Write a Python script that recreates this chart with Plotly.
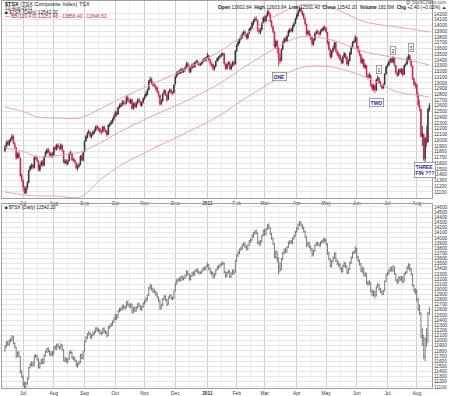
import plotly.graph_objects as go
import pandas as pd

# ---- daily OHLC of $TSX, 14-Jun-2010 .. 12-Aug-2011 ----
opens = [
    11820, 11890, 11970, 11920, 11990, 12020, 12070, 11940, 11870, 11700, 11770, 11690, 11390,
    11300, 11170, 11080, 11170, 11260, 11480, 11530, 11570, 11520, 11710, 11700, 11630, 11480, 11570, 11630, 11560, 11720, 11780, 11840, 11790, 11730, 11770,
    11740, 11880, 11840, 11920, 11870, 11850, 11910, 11820, 11610, 11650, 11590, 11640, 11770, 11770, 11670, 11660, 11610, 11510, 11550, 11580, 11730, 11650,
    11800, 11990, 12050, 12130, 12140, 12060, 12110, 12130, 12170, 12240, 12200, 12200, 12140, 12150, 12240, 12170, 12160, 12100, 12250, 12290, 12310, 12370,
    12430, 12490, 12450, 12580, 12590, 12620, 12670, 12640, 12650, 12750, 12690, 12660, 12710, 12550, 12640, 12580, 12650, 12710, 12670, 12610, 12660,
    12730, 12770, 12800, 12880, 13030, 13070, 12990, 12970, 12940, 12910, 12840, 12780, 12630, 12690, 12820, 12870, 12790, 12710, 12850, 12880, 12820, 12830,
    12980, 13110, 13160, 13200, 13170, 13240, 13190, 13230, 13270, 13340, 13290, 13190, 13260, 13320, 13280, 13360, 13380, 13330, 13310, 13330, 13370, 13420, 13390,
    13450, 13480, 13390, 13330, 13320, 13240, 13290, 13380, 13410, 13450, 13480, 13490, 13510, 13330, 13250, 13330, 13360, 13240, 13310, 13360, 13330,
    13560, 13660, 13700, 13770, 13790, 13860, 13890, 13820, 13780, 13870, 13930, 13960, 14030, 14090, 14120, 14090, 13910, 13880, 13930, 14050,
    14140, 14070, 14170, 14240, 14190, 14070, 13980, 13890, 13630, 13730, 13610, 13440, 13390, 13590, 13710, 13770, 13730, 13820, 13890, 13930, 13900, 13990, 14040,
    14120, 14170, 14250, 14300, 14240, 14200, 14120, 14020, 13860, 13900, 13820, 13790, 13670, 13750, 13860, 13900, 13870, 13860, 13910, 13920, 13970,
    13950, 13880, 13710, 13580, 13450, 13550, 13610, 13700, 13550, 13510, 13480, 13400, 13350, 13460, 13500, 13450, 13320, 13390, 13510, 13620, 13710, 13730,
    13790, 13630, 13550, 13490, 13350, 13410, 13270, 13300, 13120, 13110, 13130, 12970, 12890, 12950, 12870, 13060, 13080, 13010, 12950, 12910, 12970, 13160,
    13290, 13310, 13370, 13420, 13360, 13430, 13300, 13170, 13140, 13230, 13180, 13240, 13150, 13310, 13330, 13410, 13480, 13390, 13290, 13070, 12990,
    12960, 12800, 12610, 12540, 12060, 12100, 11680, 12040, 11970, 12604,
]
highs = [
    11920, 11990, 12000, 12020, 12050, 12110, 12090, 11970, 11880, 11790, 11800, 11700, 11430,
    11320, 11200, 11200, 11290, 11490, 11570, 11600, 11590, 11720, 11740, 11720, 11650, 11590, 11650, 11660, 11730, 11810, 11860, 11870, 11820, 11790, 11800,
    11890, 11910, 11940, 11950, 11900, 11950, 11930, 11830, 11680, 11670, 11660, 11790, 11820, 11790, 11700, 11680, 11630, 11580, 11610, 11740, 11750, 11800,
    12000, 12090, 12150, 12190, 12160, 12130, 12170, 12200, 12260, 12270, 12240, 12220, 12180, 12250, 12260, 12200, 12180, 12280, 12310, 12350, 12390, 12450,
    12520, 12510, 12590, 12640, 12650, 12700, 12700, 12680, 12770, 12780, 12720, 12730, 12720, 12660, 12670, 12670, 12730, 12740, 12690, 12680, 12750,
    12800, 12850, 12900, 13050, 13110, 13090, 13030, 13000, 12970, 12940, 12860, 12800, 12720, 12830, 12890, 12880, 12810, 12860, 12900, 12900, 12860, 12980,
    13130, 13200, 13220, 13230, 13260, 13270, 13250, 13290, 13370, 13360, 13310, 13280, 13340, 13350, 13370, 13400, 13400, 13360, 13350, 13390, 13430, 13440, 13460,
    13520, 13490, 13420, 13360, 13340, 13310, 13390, 13450, 13470, 13500, 13520, 13540, 13520, 13350, 13340, 13380, 13370, 13330, 13380, 13390, 13570,
    13680, 13740, 13790, 13830, 13880, 13920, 13910, 13850, 13880, 13960, 13990, 14070, 14110, 14150, 14160, 14100, 13950, 13960, 14060, 14160,
    14170, 14190, 14270, 14280, 14210, 14100, 14000, 13900, 13760, 13740, 13620, 13520, 13600, 13730, 13790, 13800, 13840, 13930, 13960, 13960, 14010, 14060, 14140,
    14210, 14280, 14330, 14320, 14270, 14220, 14140, 14030, 13930, 13920, 13850, 13800, 13770, 13880, 13920, 13930, 13900, 13930, 13960, 13990, 14000,
    13980, 13890, 13730, 13600, 13570, 13640, 13720, 13710, 13580, 13540, 13500, 13430, 13480, 13540, 13520, 13460, 13410, 13540, 13640, 13730, 13760, 13830,
    13800, 13650, 13580, 13510, 13440, 13420, 13340, 13310, 13160, 13180, 13140, 12990, 12980, 12970, 13070, 13130, 13100, 13030, 12980, 12990, 13170, 13300,
    13340, 13390, 13440, 13440, 13470, 13440, 13310, 13200, 13250, 13260, 13260, 13250, 13320, 13350, 13450, 13510, 13490, 13410, 13300, 13090, 13020,
    13000, 12830, 12700, 12550, 12250, 12110, 12060, 12250, 12560, 12650,
]
lows = [
    11790, 11860, 11900, 11900, 11960, 11990, 11930, 11850, 11660, 11680, 11680, 11360, 11270,
    11110, 11060, 11070, 11140, 11250, 11460, 11500, 11490, 11510, 11660, 11610, 11460, 11450, 11540, 11540, 11550, 11700, 11760, 11770, 11700, 11700, 11690,
    11730, 11820, 11820, 11860, 11820, 11840, 11800, 11600, 11580, 11570, 11560, 11630, 11740, 11640, 11620, 11590, 11490, 11470, 11520, 11560, 11640, 11630,
    11790, 11970, 12030, 12100, 12040, 12030, 12080, 12110, 12150, 12180, 12160, 12120, 12100, 12130, 12150, 12120, 12060, 12090, 12230, 12260, 12290, 12340,
    12400, 12400, 12440, 12550, 12570, 12590, 12620, 12600, 12630, 12670, 12640, 12630, 12530, 12530, 12560, 12560, 12620, 12650, 12590, 12580, 12640,
    12700, 12740, 12780, 12870, 13000, 12970, 12930, 12920, 12870, 12820, 12750, 12600, 12610, 12670, 12790, 12770, 12670, 12700, 12820, 12800, 12780, 12810,
    12970, 13090, 13130, 13150, 13150, 13170, 13170, 13200, 13250, 13270, 13170, 13170, 13240, 13260, 13260, 13330, 13310, 13290, 13290, 13310, 13350, 13370, 13370,
    13430, 13370, 13300, 13270, 13210, 13210, 13270, 13360, 13390, 13420, 13450, 13470, 13310, 13220, 13230, 13300, 13220, 13220, 13280, 13280, 13320,
    13540, 13630, 13680, 13740, 13770, 13830, 13800, 13750, 13760, 13850, 13900, 13940, 14000, 14060, 14070, 13880, 13850, 13840, 13910, 14030,
    14040, 14050, 14150, 14170, 14050, 13960, 13860, 13610, 13590, 13520, 13290, 13330, 13370, 13570, 13680, 13700, 13710, 13800, 13870, 13880, 13880, 13960, 14020,
    14100, 14150, 14230, 14220, 14160, 14100, 14000, 13820, 13830, 13800, 13740, 13630, 13650, 13730, 13840, 13850, 13820, 13830, 13880, 13900, 13910,
    13860, 13670, 13560, 13420, 13430, 13520, 13590, 13530, 13470, 13430, 13380, 13320, 13330, 13430, 13410, 13300, 13290, 13370, 13490, 13600, 13680, 13700,
    13590, 13530, 13460, 13330, 13320, 13250, 13240, 13100, 13060, 13080, 12930, 12860, 12860, 12820, 12860, 13030, 12970, 12930, 12880, 12890, 12960, 13140,
    13260, 13290, 13340, 13340, 13340, 13280, 13150, 13100, 13120, 13160, 13150, 13110, 13140, 13280, 13310, 13390, 13350, 13270, 13050, 12940, 12900,
    12760, 12580, 12500, 12050, 11900, 11640, 11600, 11880, 11960, 12500,
]
closes = [
    11880, 11960, 11930, 11990, 12010, 12060, 11950, 11880, 11690, 11760, 11700, 11380, 11310,
    11180, 11090, 11160, 11250, 11470, 11540, 11560, 11530, 11700, 11690, 11640, 11490, 11560, 11620, 11570, 11710, 11790, 11830, 11800, 11740, 11760, 11720,
    11870, 11850, 11910, 11880, 11860, 11920, 11830, 11620, 11640, 11600, 11630, 11760, 11780, 11660, 11650, 11620, 11520, 11540, 11570, 11720, 11660, 11780,
    11980, 12060, 12120, 12150, 12070, 12100, 12140, 12160, 12230, 12210, 12190, 12150, 12140, 12230, 12180, 12150, 12090, 12260, 12280, 12320, 12360, 12420,
    12480, 12440, 12570, 12600, 12610, 12660, 12650, 12640, 12740, 12700, 12670, 12700, 12560, 12630, 12590, 12640, 12700, 12680, 12620, 12650, 12720,
    12760, 12810, 12870, 13020, 13060, 13000, 12960, 12950, 12900, 12850, 12790, 12640, 12680, 12810, 12860, 12800, 12700, 12840, 12870, 12830, 12820, 12960,
    13100, 13170, 13190, 13180, 13230, 13200, 13220, 13260, 13330, 13300, 13200, 13250, 13310, 13290, 13350, 13370, 13340, 13320, 13320, 13360, 13410, 13400, 13440,
    13470, 13400, 13340, 13310, 13250, 13280, 13370, 13420, 13440, 13470, 13490, 13500, 13340, 13260, 13320, 13350, 13250, 13300, 13350, 13320, 13550,
    13650, 13710, 13760, 13800, 13850, 13880, 13830, 13790, 13860, 13940, 13950, 14040, 14080, 14110, 14100, 13920, 13890, 13920, 14040, 14130,
    14080, 14160, 14230, 14200, 14080, 13990, 13900, 13640, 13720, 13620, 13450, 13380, 13580, 13700, 13760, 13740, 13810, 13900, 13920, 13910, 13980, 14030, 14110,
    14180, 14240, 14290, 14250, 14190, 14130, 14030, 13850, 13890, 13830, 13780, 13680, 13740, 13850, 13890, 13880, 13850, 13900, 13930, 13960, 13940,
    13890, 13700, 13590, 13460, 13540, 13600, 13690, 13560, 13500, 13470, 13410, 13360, 13450, 13510, 13440, 13330, 13380, 13520, 13610, 13700, 13720, 13800,
    13620, 13560, 13500, 13360, 13400, 13280, 13310, 13130, 13100, 13140, 12960, 12900, 12940, 12880, 13050, 13090, 13000, 12960, 12920, 12960, 13150, 13280,
    13300, 13360, 13410, 13370, 13440, 13310, 13180, 13130, 13220, 13190, 13230, 13140, 13300, 13320, 13420, 13470, 13380, 13300, 13080, 12980, 12950,
    12810, 12620, 12560, 12070, 12120, 11670, 12030, 11950, 12540, 12542,
]

# ---- envelope lines (upper / middle / lower), sampled at trading-day index ----
band_idx = [0, 14, 23, 35, 54, 68, 82, 104, 128, 152, 176, 211, 234, 258, 281, 295, 304]
band_upper = [12580, 12493, 12406, 12388, 12388, 12545, 12719, 12963, 13224, 13521, 13904, 14357, 14305, 14061, 13974, 13921, 13886]
band_mid = [11866, 11796, 11709, 11726, 11796, 11953, 12144, 12406, 12667, 12963, 13346, 13799, 13747, 13538, 13434, 13364, 13312]
band_lower = [11099, 11047, 11030, 11030, 11012, 11308, 11552, 11831, 12110, 12406, 12789, 13259, 13277, 13103, 12841, 12789, 12754]

top_ticks = list(range(11100, 14201, 100))
bottom_ticks = list(range(11100, 14601, 100))

n = len(closes)
dates = pd.bdate_range("2010-06-14", periods=n)
x = list(range(n))

month_idx, month_txt, mid_idx = [], [], []
for i in range(1, n):
    if dates[i].month != dates[i - 1].month:
        month_idx.append(i)
        month_txt.append("<b>%d</b>" % dates[i].year if dates[i].month == 1 else dates[i].strftime("%b"))
    if dates[i].day >= 15 and dates[i - 1].day < 15:
        mid_idx.append(i)

up = [i for i in range(n) if i == 0 or closes[i] >= closes[i - 1]]
dn = [i for i in range(n) if i > 0 and closes[i] < closes[i - 1]]


def pick(lst, idx):
    return [lst[i] for i in idx]


fig = go.Figure()

UP_COL = "#2b2b2b"
DN_COL = "#d0164a"
for idx, col in ((up, UP_COL), (dn, DN_COL)):
    fig.add_trace(go.Candlestick(
        x=idx, open=pick(opens, idx), high=pick(highs, idx), low=pick(lows, idx), close=pick(closes, idx),
        increasing=dict(line=dict(color=col, width=0.8), fillcolor=col),
        decreasing=dict(line=dict(color=col, width=0.8), fillcolor=col),
        whiskerwidth=0, xaxis="x", yaxis="y", showlegend=False, hoverinfo="skip",
    ))

BAND_COL = "#e6a7ad"
for vals in (band_upper, band_mid, band_lower):
    fig.add_trace(go.Scatter(
        x=band_idx, y=vals, mode="lines", line=dict(color=BAND_COL, width=1, shape="spline", smoothing=0.8),
        xaxis="x", yaxis="y", showlegend=False, hoverinfo="skip",
    ))

fig.add_trace(go.Ohlc(
    x=x, open=opens, high=highs, low=lows, close=closes,
    increasing=dict(line=dict(color="#5a5a5a", width=0.8)),
    decreasing=dict(line=dict(color="#5a5a5a", width=0.8)),
    tickwidth=0.35, xaxis="x2", yaxis="y2", showlegend=False, hoverinfo="skip",
))

W, H = 450, 396
x_dom = [2 / W, 432 / W]
x_rng = [-2.15, 305.9]
top_dom = [1 - 198 / H, 1 - 1 / H]
bot_dom = [1 - 388 / H, 1 - 204 / H]

xcommon = dict(
    range=x_rng, domain=x_dom, tickmode="array", tickvals=month_idx, ticktext=month_txt,
    showgrid=True, gridcolor="#cdcdcd", gridwidth=1, ticks="", tickfont=dict(size=4.8, color="#333"),
    showline=True, linecolor="#a0a0a0", linewidth=1, mirror=True, zeroline=False,
    rangeslider=dict(visible=False), automargin=False, ticklabelstandoff=0,
    minor=dict(tickvals=mid_idx, showgrid=True, gridcolor="#ececec", gridwidth=1),
)
ycommon = dict(
    side="right", tickmode="array", showgrid=True, gridcolor="#e6e6e6", gridwidth=1,
    ticks="", tickfont=dict(size=4.8, color="#333"), showline=True, linecolor="#a0a0a0",
    linewidth=1, mirror=True, zeroline=False, automargin=False, ticklabelstandoff=0,
    ticklabeloverflow="allow",
)

fig.update_layout(
    width=W, height=H, margin=dict(l=0, r=0, t=0, b=0),
    paper_bgcolor="white", plot_bgcolor="white", showlegend=False,
    font=dict(family="Liberation Sans, Arial, sans-serif", size=5, color="#222"),
    xaxis=dict(anchor="y", **xcommon),
    yaxis=dict(anchor="x", domain=top_dom, range=[10994, 14426], tickvals=top_ticks,
               ticktext=[str(v) for v in top_ticks], **ycommon),
    xaxis2=dict(anchor="y2", **xcommon),
    yaxis2=dict(anchor="x2", domain=bot_dom, range=[11079, 14658], tickvals=bottom_ticks,
                ticktext=[str(v) for v in bottom_ticks], **ycommon),
)


def px_ann(text, px, py, size=5, color="#222", xanchor="left", **kw):
    fig.add_annotation(text=text, xref="paper", yref="paper", x=px / W, y=1 - py / H,
                       xanchor=xanchor, yanchor="middle", showarrow=False,
                       font=dict(size=size, color=color), **kw)


px_ann("<b>$TSX</b> (TSX Composite Index) TSX", 3, 4, size=5.5)
px_ann("12-Aug-2011", 3, 8.5, size=4.8)
px_ann("<b>■</b> $TSX (Daily) 12542.20", 3, 12.5, size=4.8)
px_ann("— BB(120,4.0) 13251.46 - 13856.40 - 12646.52", 3, 16.5, size=4.8, color="#c02040")
px_ann("@ StockCharts.com", 448, 2.5, xanchor="right", size=4.5, color="#555")
px_ann("<b>Open</b> 12602.84  <b>High</b> 12603.84  <b>Low</b> 12501.40  <b>Close</b> 12542.20  "
       "<b>Volume</b> 182.6M  <b>Chg</b> +2.40 (+0.02%) ▲", 448, 7.5, xanchor="right", size=4.8)
px_ann("<b>■</b> $TSX (Daily) 12542.20", 3, 207.5, size=4.6)


def box(text, xi, yv, color="#22229a", size=5):
    fig.add_annotation(text=text, x=xi, y=yv, xref="x", yref="y", showarrow=False,
                       font=dict(size=size, color=color), bgcolor="white",
                       bordercolor="#8a8a8a", borderwidth=0.8, borderpad=0.8, align="left")


box("<b>ONE</b>", 197, 13102)
box("<b>TWO</b>", 266, 12649)
box("1", 268, 13241, color="#222")
box("2", 278, 13564, color="#222")
box("3", 291, 13616, color="#222")
box("<b>THREE<br>FIN ???</b>", 301, 11482)

fig.write_html(
    "out.html",
    config={"displayModeBar": False, "staticPlot": True},
    post_script="document.body.style.margin='0';document.body.style.padding='0';"
                "document.documentElement.style.overflow='hidden';",
)
